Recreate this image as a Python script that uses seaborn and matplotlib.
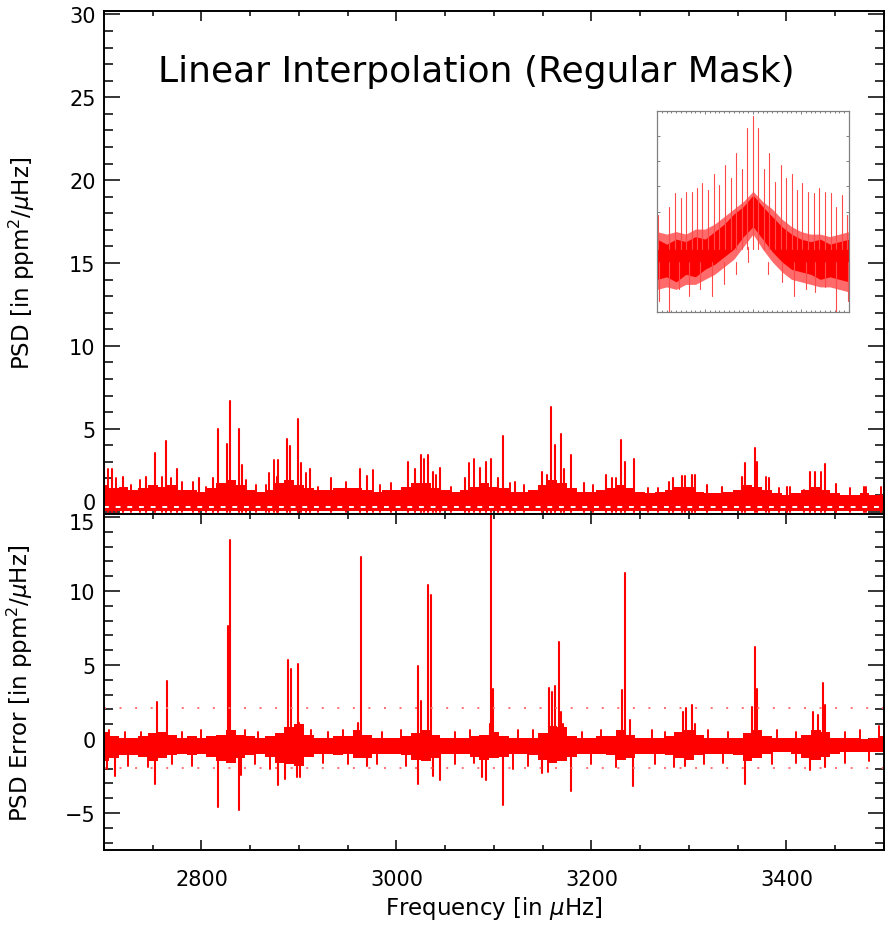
import numpy as np
import pandas as pd
import matplotlib
matplotlib.use("Agg")
import matplotlib.pyplot as plt
import seaborn as sns
from matplotlib.ticker import MultipleLocator, NullFormatter, FuncFormatter
from matplotlib.transforms import blended_transform_factory

# ---------------- data ----------------
FREQ_GRID = list(range(2700, 3501, 10))

# upper edge of the dense noise band in the PSD panel (10 uHz bins)
PSD_UPPER = [1.6, 1.4, 1.5, 1.3, 1.4, 1.6, 1.5, 1.6, 1.3, 1.3,
             1.2, 1.4, 1.7, 1.9, 1.6, 1.3, 1.2, 1.3, 1.7, 1.9,
             1.6, 1.4, 1.3, 1.3, 1.4, 1.4, 1.4, 1.3, 1.2, 1.3,
             1.3, 1.5, 1.7, 1.7, 1.4, 1.3, 1.2, 1.3, 1.5, 1.7,
             1.5, 1.4, 1.2, 1.2, 1.3, 1.6, 1.9, 1.7, 1.4, 1.2,
             1.2, 1.3, 1.4, 1.6, 1.4, 1.2, 1.1, 1.2, 1.3, 1.5,
             1.5, 1.2, 1.1, 1.1, 1.2, 1.3, 1.6, 1.5, 1.3, 1.1,
             1.0, 1.1, 1.3, 1.5, 1.3, 1.1, 1.0, 1.0, 1.1, 1.0, 1.0]
PSD_FLOOR = 0.05

PSD_SPIKE_FREQ = [2700.5, 2708, 2720, 2743, 2752, 2764, 2774.5, 2797, 2812, 2816.6,
                  2825.8, 2829, 2838.8, 2842, 2877, 2878.5, 2888, 2890.8, 2898.6, 2902,
                  2911, 2933, 2962.6, 2969.5, 3012, 3019.5, 3024.8, 3032.6, 3037.8, 3045,
                  3070, 3085.6, 3091.8, 3096.9, 3104.4, 3109.6, 3122, 3149, 3154, 3159,
                  3162.5, 3168.7, 3172, 3178.9, 3192, 3215, 3221, 3230.5, 3234, 3243.6,
                  3280, 3283.6, 3292.8, 3295.5, 3302.7, 3306, 3319, 3334, 3354, 3357.4,
                  3367.7, 3370, 3382, 3401, 3424, 3429, 3440, 3451, 3480]
PSD_SPIKE_HEIGHT = [2.85, 2.55, 2.1, 2.1, 3.55, 4.28, 2.55, 2.0, 2.0, 5.0,
                    4.1, 6.7, 5.0, 2.83, 2.1, 3.1, 4.4, 3.95, 5.56, 2.9,
                    2.55, 2.0, 2.55, 2.15, 3.0, 2.55, 3.4, 3.4, 2.4, 2.65,
                    2.0, 2.6, 3.0, 3.15, 2.0, 4.56, 1.8, 2.4, 2.2, 6.3,
                    4.0, 4.7, 2.55, 3.4, 1.7, 2.2, 2.0, 4.3, 3.0, 3.15,
                    1.8, 2.0, 2.15, 2.15, 2.2, 2.2, 1.6, 1.5, 2.1, 2.9,
                    3.83, 3.0, 2.0, 1.5, 2.4, 2.4, 2.85, 1.65, 1.5]
# smaller spikes in the PSD noise band
PSD_SMALL_FREQ = [2704.4, 2712, 2728, 2737, 2759, 2769, 2779.8, 2791.7, 2805, 2845.7,
                  2856, 2866, 2869, 2874, 2907, 2920, 2948, 2975.6, 2983, 2994,
                  3028, 3041, 3056, 3074, 3080, 3116, 3131, 3158, 3202, 3225,
                  3258, 3268, 3379, 3392, 3404, 3418, 3435, 3465, 3482, 3497]
PSD_SMALL_HEIGHT = [2.59, 2.0, 1.6, 1.9, 2.09, 2.0, 1.8, 1.8, 1.5, 1.9,
                    1.6, 1.6, 2.3, 3.1, 2.3, 1.5, 1.8, 2.5, 1.6, 1.7,
                    3.2, 2.2, 1.5, 2.9, 3.2, 1.7, 1.6, 2.3, 1.6, 2.0,
                    1.4, 1.4, 2.1, 1.4, 1.5, 1.3, 2.4, 1.4, 1.5, 1.5]

# PSD error panel: noise band edges (10 uHz bins)
ERR_UPPER = [0.5, 0.2, 0.1, 0.1, 0.2, 0.4, 0.5, 0.3, 0.1, 0.2,
             0.1, 0.2, 0.3, 0.6, 0.3, 0.2, 0.1, 0.2, 0.4, 0.8,
             1.0, 0.3, 0.1, 0.1, 0.2, 0.2, 0.6, 0.3, 0.1, 0.1,
             0.1, 0.2, 0.4, 0.6, 0.3, 0.1, 0.1, 0.1, 0.2, 0.3,
             0.5, 0.2, 0.1, 0.1, 0.1, 0.4, 0.9, 0.8, 0.2, 0.1,
             0.1, 0.2, 0.2, 0.6, 0.3, 0.1, 0.1, 0.1, 0.2, 0.5,
             0.6, 0.3, 0.1, 0.1, 0.1, 0.1, 0.4, 0.6, 0.2, 0.1,
             0.1, 0.1, 0.3, 0.6, 0.5, 0.1, 0.1, 0.1, 0.0, 0.1, 0.2]
ERR_LOWER = [-1.5, -1.3, -1.1, -1.1, -1.2, -1.5, -1.3, -1.1, -1.0, -1.1,
             -1.0, -1.2, -1.5, -1.6, -1.3, -1.1, -1.0, -1.2, -1.6, -1.7,
             -1.8, -1.2, -1.0, -1.0, -1.1, -1.0, -1.3, -1.3, -1.0, -1.0,
             -1.0, -1.1, -1.4, -1.5, -1.3, -1.0, -1.0, -1.0, -1.2, -1.4,
             -1.3, -1.2, -1.0, -1.0, -1.1, -1.4, -1.6, -1.5, -1.2, -1.0,
             -1.0, -1.0, -1.1, -1.4, -1.3, -1.0, -1.0, -1.0, -1.1, -1.3,
             -1.4, -1.1, -1.0, -1.0, -1.0, -1.1, -1.5, -1.3, -1.0, -0.9,
             -0.9, -1.0, -1.3, -1.4, -1.2, -1.0, -0.9, -0.9, -0.9, -0.9, -0.9]
ERR_BASE = -0.45

ERR_SPIKE_FREQ = [2754.7, 2765, 2826.8, 2829.2, 2889, 2891.6, 2898.7, 2900, 2960.9, 2963.2,
                  3022.4, 3025, 3032.6, 3035.4, 3097, 3099.3, 3095.5, 3156.7, 3159.5, 3162.6,
                  3167, 3168.7, 3171, 3231, 3234.4, 3239.5, 3293.5, 3296.6, 3303.4, 3306,
                  3364.3, 3367.7, 3370, 3427.5, 3432, 3437.8, 3440,
                  2711, 2752.3, 2816.6, 2838.8, 2841, 2878.8, 2886, 2898, 2901.5, 2969.5,
                  3022.4, 3037, 3045, 3087.3, 3092, 3109.6, 3149, 3179, 3243, 3296,
                  3357.4, 3424, 3440]
ERR_SPIKE_VALUE = [2.48, 3.94, 7.66, 13.47, 5.36, 4.73, 5.07, 1.1, 1.1, 12.3,
                   4.9, 2.6, 10.4, 9.73, 15.8, 3.38, 1.0, 3.42, 3.2, 3.6,
                   6.53, 1.85, 1.0, 3.3, 11.2, 1.3, 1.85, 2.1, 2.3, 1.0,
                   2.14, 6.2, 3.4, 1.8, 1.6, 3.78, 2.3,
                   -2.48, -3.04, -4.62, -4.77, -2.4, -3.1, -2.7, -2.6, -2.6, -1.8,
                   -3.04, -2.5, -2.8, -2.6, -2.8, -4.46, -2.3, -3.49, -3.15, -1.8,
                   -3.04, -2.1, -1.9]
# smaller excursions of the error noise band
ERR_SMALL_FREQ = [2705, 2722, 2738, 2780, 2800, 2845, 2858, 2912, 2930, 2945,
                  2985, 3005, 3060, 3075, 3125, 3140, 3190, 3210, 3262, 3275,
                  3320, 3340, 3390, 3410, 3460, 3475, 3495,
                  2703, 2725, 2745, 2770, 2790, 2855, 2870, 2925, 2950, 2980,
                  3010, 3060, 3080, 3120, 3135, 3155, 3200, 3225, 3265, 3285,
                  3315, 3335, 3385, 3410, 3460, 3485]
ERR_SMALL_VALUE = [0.6, 0.5, 0.5, 0.5, 0.6, 0.6, 0.5, 0.6, 0.5, 0.6,
                   0.5, 0.6, 0.5, 0.6, 0.6, 0.6, 0.5, 0.6, 0.6, 0.5,
                   0.6, 0.5, 0.6, 0.5, 0.5, 0.6, 0.9,
                   -2.0, -1.8, -1.9, -1.7, -1.8, -1.7, -2.0, -1.6, -1.7, -1.7,
                   -1.8, -1.7, -1.6, -2.0, -1.8, -2.2, -1.7, -1.9, -1.7, -1.9,
                   -1.7, -1.6, -1.7, -1.6, -1.6, -1.5]
ERR_THRESHOLDS = [2.07, -1.94]

# inset (window-function-like spectrum, arbitrary units)
INSET_X = [-2.0, -1.8, -1.6, -1.4, -1.2, -1.0, -0.8, -0.6, -0.4, -0.2, 0.0,
           0.2, 0.4, 0.6, 0.8, 1.0, 1.2, 1.4, 1.6, 1.8, 2.0]
INSET_HI = [2.9, 2.7, 2.9, 2.8, 3.0, 2.9, 3.2, 3.5, 3.9, 4.2, 4.65,
            4.2, 3.8, 3.4, 3.1, 2.9, 2.8, 2.9, 2.7, 2.8, 2.9]
INSET_LO = [1.3, 1.4, 1.2, 1.5, 1.4, 1.7, 1.9, 2.2, 2.5, 3.0, 3.4,
            2.9, 2.4, 2.0, 1.7, 1.6, 1.5, 1.3, 1.4, 1.3, 1.2]
INSET_FRINGE_HI = [3.2, 3.1, 3.2, 3.1, 3.3, 3.3, 3.5, 3.8, 4.1, 4.4, 4.8,
                   4.4, 4.1, 3.7, 3.4, 3.2, 3.1, 3.1, 3.0, 3.1, 3.2]
INSET_FRINGE_LO = [0.9, 1.0, 0.9, 1.1, 1.1, 1.3, 1.5, 1.8, 2.1, 2.6, 3.1,
                   2.5, 2.0, 1.6, 1.3, 1.2, 1.1, 1.0, 1.0, 0.9, 0.8]
INSET_COMB_X = [-1.97, -1.75, -1.625, -1.507, -1.396, -1.278, -1.160, -1.056, -0.931, -0.8125,
                -0.708, -0.583, -0.465, -0.347, -0.236, -0.118, -0.007, 0.111, 0.229, 0.333,
                0.458, 0.576, 0.681, 0.806, 0.924, 1.028, 1.153, 1.271, 1.382, 1.5,
                1.618, 1.722, 1.847, 1.965]
INSET_COMB_Y = [3.85, 4.19, 4.75, 4.52, 4.76, 4.76, 4.92, 5.15, 4.85, 5.48,
                5.05, 5.85, 5.32, 6.32, 5.68, 7.32, 7.79, 7.32, 5.68, 6.32,
                5.19, 5.85, 5.32, 5.48, 4.85, 5.15, 4.76, 4.75, 4.92, 4.76,
                4.72, 4.19, 4.65, 3.85]
INSET_DIP_X = [-1.95, -1.75, -1.55, -1.33, -1.1, -0.86, -0.6, -0.35, -0.1, 0.32, 0.6,
               0.85, 1.1, 1.3, 1.5, 1.72, 1.97]
INSET_DIP_Y = [0.45, 0.0, 0.9, 0.65, 0.9, 0.65, 1.1, 1.5, 2.6, 1.5, 1.2,
               0.65, 0.9, 0.8, 1.0, 0.0, 0.45]

TITLE = "Linear Interpolation (Regular Mask)"
RED = "#ff0000"

# ---------------- style ----------------
sns.set_style("ticks")
plt.rcParams["font.family"] = ["DejaVu Sans"]
plt.rcParams["mathtext.fontset"] = "dejavusans"
for key in ["text.color", "axes.labelcolor", "xtick.color", "ytick.color"]:
    plt.rcParams[key] = "black"


def spike_frame(freqs, tops, base):
    rows = []
    for i, (f, t) in enumerate(zip(freqs, tops)):
        rows.append((f, base, i))
        rows.append((f, t, i))
    return pd.DataFrame(rows, columns=["freq", "value", "spike"])


def draw_spikes(ax, freqs, tops, base, color=RED, lw=1.5):
    sns.lineplot(data=spike_frame(freqs, tops, base), x="freq", y="value",
                 units="spike", estimator=None, sort=False, color=color, lw=lw,
                 ax=ax, legend=False)


def fmt(v):
    return ("%g" % v).replace("-", "\u2212")


def style_main(ax, ymaj, ymin, skip_label):
    ax.xaxis.set_major_locator(MultipleLocator(200))
    ax.xaxis.set_minor_locator(MultipleLocator(50))
    ax.yaxis.set_major_locator(MultipleLocator(ymaj))
    ax.yaxis.set_minor_locator(MultipleLocator(ymin))
    ax.yaxis.set_major_formatter(
        FuncFormatter(lambda v, p: "" if abs(v - skip_label) < 1e-9 else fmt(v)))
    ax.tick_params(axis="both", which="both", direction="in", top=True, right=True,
                   colors="black", width=1.1, labelsize=15)
    ax.tick_params(axis="y", which="major", length=11.5, pad=6)
    ax.tick_params(axis="y", which="minor", length=6.5)
    ax.tick_params(axis="x", which="major", length=7, pad=14)
    ax.tick_params(axis="x", which="minor", length=3.6)
    for s in ax.spines.values():
        s.set_visible(True)
        s.set_color("black")
        s.set_linewidth(1.4)
    # the skipped label is drawn slightly shifted, as in the reference
    shift = 6.5 if skip_label == 0 else -4.5
    ax.annotate(fmt(skip_label), xy=(0, skip_label),
                xycoords=blended_transform_factory(ax.transAxes, ax.transData),
                xytext=(-6, shift), textcoords="offset points",
                ha="right", va="center", fontsize=15, color="black")


fig = plt.figure(figsize=(8.91, 9.28), dpi=100)
ax1 = fig.add_axes([0.1167, 0.445, 0.8754, 0.542])
ax2 = fig.add_axes([0.1167, 0.083, 0.8754, 0.362], sharex=ax1)

# ---- top panel: PSD ----
ax1.fill_between(FREQ_GRID, PSD_FLOOR, PSD_UPPER, step="mid", color=RED, lw=0)
ax1.axhline(0.3, color="white", lw=1.4, ls=(0, (2.5, 3.5)), zorder=2.5)
draw_spikes(ax1, PSD_SMALL_FREQ, PSD_SMALL_HEIGHT, 0.0, lw=1.4)
draw_spikes(ax1, PSD_SPIKE_FREQ, PSD_SPIKE_HEIGHT, 0.0)
ax1.set_xlim(2700, 3500)
ax1.set_ylim(-0.15, 30.2)
style_main(ax1, 5, 1, 0)
ax1.tick_params(axis="x", labelbottom=False)
ax1.set_xlabel("")
ax1.set_ylabel(r"PSD [in ppm$^2$/$\mu$Hz]", fontsize=16.5)
ax1.yaxis.set_label_coords(-0.086, 0.5)
ax1.text(0.478, 0.881, TITLE, transform=ax1.transAxes, ha="center", va="center", fontsize=26)

# ---- bottom panel: PSD error ----
ax2.fill_between(FREQ_GRID, ERR_LOWER, ERR_UPPER, step="mid", color=RED, lw=0)
draw_spikes(ax2, ERR_SMALL_FREQ, ERR_SMALL_VALUE, ERR_BASE, lw=1.4)
draw_spikes(ax2, ERR_SPIKE_FREQ, ERR_SPIKE_VALUE, ERR_BASE)
for yv in ERR_THRESHOLDS:
    ax2.axhline(yv, color="#ff7070", lw=1.4, ls=(0, (1, 7)))
ax2.set_xlim(2700, 3500)
ax2.set_ylim(-7.5, 15.2)
style_main(ax2, 5, 1, 15)
ax2.set_xlabel(r"Frequency [in $\mu$Hz]", fontsize=16.5, labelpad=3)
ax2.set_ylabel(r"PSD Error [in ppm$^2$/$\mu$Hz]", fontsize=16.5)
ax2.yaxis.set_label_coords(-0.088, 0.5)

# ---- inset ----
axi = fig.add_axes([0.7374, 0.6627, 0.2155, 0.2166])
axi.fill_between(INSET_X, INSET_FRINGE_LO, INSET_FRINGE_HI, color="#ff6a6a", lw=0)
axi.fill_between(INSET_X, INSET_LO, INSET_HI, color=RED, lw=0)
draw_spikes(axi, INSET_COMB_X, INSET_COMB_Y, 2.5, color="#ff4a4a", lw=0.8)
draw_spikes(axi, INSET_DIP_X, INSET_DIP_Y, 2.0, color="#ff4a4a", lw=0.8)
axi.set_xlim(-2, 2)
axi.set_ylim(0, 8)
axi.set_xlabel("")
axi.set_ylabel("")
axi.xaxis.set_major_locator(MultipleLocator(1))
axi.xaxis.set_minor_locator(MultipleLocator(0.1))
axi.yaxis.set_major_locator(MultipleLocator(1))
axi.xaxis.set_major_formatter(NullFormatter())
axi.yaxis.set_major_formatter(NullFormatter())
axi.tick_params(axis="both", which="both", direction="in", top=True, right=True,
                colors="#808080", width=0.7)
axi.tick_params(axis="both", which="major", length=2.5)
axi.tick_params(axis="both", which="minor", length=1.5)
for s in axi.spines.values():
    s.set_color("#808080")
    s.set_linewidth(0.9)

fig.savefig("out.png", dpi=100)
